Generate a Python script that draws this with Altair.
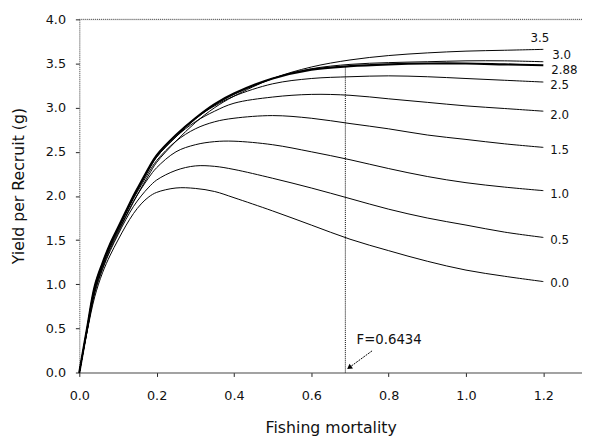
import altair as alt
import pandas as pd

# Fishing mortality grid
F = [0, 0.02, 0.04, 0.06, 0.08, 0.1, 0.12, 0.14, 0.16, 0.18, 0.2, 0.25, 0.3,
     0.35, 0.4, 0.5, 0.6, 0.7, 0.8, 0.9, 1.0, 1.1, 1.2]

# Yield per recruit (g) for each curve
ypr_00 = [0, 0.46, 0.86, 1.13, 1.33, 1.50, 1.66, 1.80, 1.91, 1.99, 2.04, 2.09, 2.085,
          2.05, 1.98, 1.83, 1.67, 1.51, 1.38, 1.26, 1.16, 1.09, 1.03]
ypr_05 = [0, 0.47, 0.90, 1.17, 1.38, 1.56, 1.73, 1.88, 2.00, 2.10, 2.18, 2.29, 2.34,
          2.335, 2.30, 2.20, 2.09, 1.97, 1.85, 1.75, 1.67, 1.59, 1.53]
ypr_10 = [0, 0.48, 0.94, 1.20, 1.42, 1.60, 1.77, 1.94, 2.08, 2.21, 2.32, 2.50, 2.58,
          2.615, 2.62, 2.58, 2.50, 2.41, 2.31, 2.22, 2.15, 2.10, 2.06]
ypr_15 = [0, 0.49, 0.96, 1.22, 1.44, 1.62, 1.80, 1.97, 2.12, 2.27, 2.40, 2.62, 2.76,
          2.84, 2.88, 2.91, 2.88, 2.82, 2.76, 2.69, 2.64, 2.59, 2.55]
ypr_20 = [0, 0.50, 0.97, 1.23, 1.45, 1.63, 1.81, 1.99, 2.15, 2.30, 2.44, 2.67, 2.84,
          2.96, 3.05, 3.12, 3.15, 3.14, 3.10, 3.06, 3.02, 2.99, 2.96]
ypr_25 = [0, 0.50, 0.98, 1.24, 1.46, 1.64, 1.82, 2.00, 2.16, 2.32, 2.46, 2.69, 2.88,
          3.02, 3.13, 3.27, 3.33, 3.35, 3.36, 3.35, 3.33, 3.31, 3.29]
ypr_288 = [0, 0.50, 0.98, 1.24, 1.46, 1.64, 1.82, 2.00, 2.16, 2.32, 2.46, 2.69, 2.88,
           3.04, 3.16, 3.33, 3.43, 3.47, 3.49, 3.50, 3.50, 3.49, 3.48]
ypr_30 = [0, 0.49, 0.96, 1.22, 1.44, 1.62, 1.80, 1.98, 2.14, 2.30, 2.44, 2.67, 2.87,
          3.03, 3.15, 3.33, 3.44, 3.49, 3.51, 3.52, 3.53, 3.53, 3.52]
ypr_35 = [0, 0.47, 0.92, 1.18, 1.40, 1.58, 1.76, 1.93, 2.09, 2.24, 2.38, 2.62, 2.83,
          3.00, 3.13, 3.33, 3.46, 3.54, 3.59, 3.62, 3.64, 3.65, 3.66]

curve_names = ["0.0", "0.5", "1.0", "1.5", "2.0", "2.5", "2.88", "3.0", "3.5"]
curve_values = [ypr_00, ypr_05, ypr_10, ypr_15, ypr_20, ypr_25, ypr_288, ypr_30, ypr_35]
label_dx = [7, 7, 7, 7, 7, 7, 8, 9, -13]
label_dy = [2, 3, 3, 3, 4, 3, 5, -7, -11]

# reference line and annotation
f_ref = [0.688]
f_ref_top = [3.47]
annot_text = ["F=0.6434"]
annot_pos = [0.717, 0.37]
arrow_F = [0.757, 0.698]
arrow_y = [0.245, 0.056]

rows = []
for name, vals in zip(curve_names, curve_values):
    for f, v in zip(F, vals):
        rows.append({"curve": name, "F": f, "ypr": v})
df = pd.DataFrame(rows)

FONT = "DejaVu Sans"
xscale = alt.Scale(domain=[0, 1.3], nice=False, zero=False)
yscale = alt.Scale(domain=[0, 4], nice=False)

xaxis = alt.Axis(values=[0, 0.2, 0.4, 0.6, 0.8, 1.0, 1.2], format=".1f",
                 title="Fishing mortality", grid=False, tickSize=4,
                 labelPadding=13, labelFlush=False, domainColor="#555",
                 tickColor="#222", labelFont=FONT, labelFontSize=13,
                 labelColor="#111", titleFont=FONT, titleFontSize=16,
                 titleFontWeight="normal", titleColor="#111", titlePadding=18)
yaxis = alt.Axis(values=[0, 0.5, 1, 1.5, 2, 2.5, 3, 3.5, 4], format=".1f",
                 title="Yield per Recruit (g)", grid=False, tickSize=4,
                 labelPadding=10, labelFlush=False, domainColor="#666",
                 domainDash=[1, 1], tickColor="#222", labelFont=FONT,
                 labelFontSize=13, labelColor="#111", titleFont=FONT,
                 titleFontSize=16, titleFontWeight="normal", titleColor="#111",
                 titlePadding=19, titleY=169)

base = alt.Chart(df)
thin = base.transform_filter(alt.datum.curve != "2.88").mark_line(
    color="black", strokeWidth=1, interpolate="catmull-rom"
).encode(
    x=alt.X("F:Q", scale=xscale, axis=xaxis),
    y=alt.Y("ypr:Q", scale=yscale, axis=yaxis),
    detail="curve:N",
)
thick = base.transform_filter(alt.datum.curve == "2.88").mark_line(
    color="black", strokeWidth=2.2, interpolate="catmull-rom"
).encode(x="F:Q", y="ypr:Q")

label_layers = []
for name, vals, ddx, ddy in zip(curve_names, curve_values, label_dx, label_dy):
    ldf = pd.DataFrame({"F": [F[-1]], "ypr": [vals[-1]], "t": [name]})
    label_layers.append(
        alt.Chart(ldf).mark_text(
            align="left", baseline="middle", font=FONT, fontSize=12,
            color="#111", dx=ddx, dy=ddy
        ).encode(x="F:Q", y="ypr:Q", text="t:N")
    )

top_rule = alt.Chart(pd.DataFrame({"y": [4.0]})).mark_rule(
    color="#444", strokeDash=[1, 1], strokeWidth=1
).encode(y="y:Q")

vref = alt.Chart(pd.DataFrame({"F": f_ref, "y0": [0.0], "y1": f_ref_top})).mark_rule(
    color="black", strokeDash=[1, 1], strokeWidth=1
).encode(x="F:Q", y="y0:Q", y2="y1:Q")

annot = alt.Chart(pd.DataFrame({"F": [annot_pos[0]], "y": [annot_pos[1]],
                                "t": annot_text})).mark_text(
    align="left", baseline="middle", font=FONT, fontSize=13.5, color="#111"
).encode(x="F:Q", y="y:Q", text="t:N")

arrow_df = pd.DataFrame({"F": arrow_F, "y": arrow_y, "o": [0, 1]})
arrow_line = alt.Chart(arrow_df).mark_line(
    color="black", strokeWidth=1, strokeDash=[2, 1]
).encode(x="F:Q", y="y:Q", order="o:Q")
arrow_head = alt.Chart(arrow_df.iloc[[1]]).mark_point(
    shape="triangle-up", filled=True, color="black", size=35, angle=234, opacity=1
).encode(x="F:Q", y="y:Q")

chart = alt.layer(top_rule, vref, thin, thick, *label_layers, annot, arrow_line, arrow_head).properties(
    width=511, height=359,
    autosize=alt.AutoSizeParams(type="none"),
    padding={"left": 72.5, "top": 8, "right": 0, "bottom": 61},
).configure_view(stroke=None).configure(background="white")

chart.save("out.html", embed_options={"renderer": "svg", "actions": False})
